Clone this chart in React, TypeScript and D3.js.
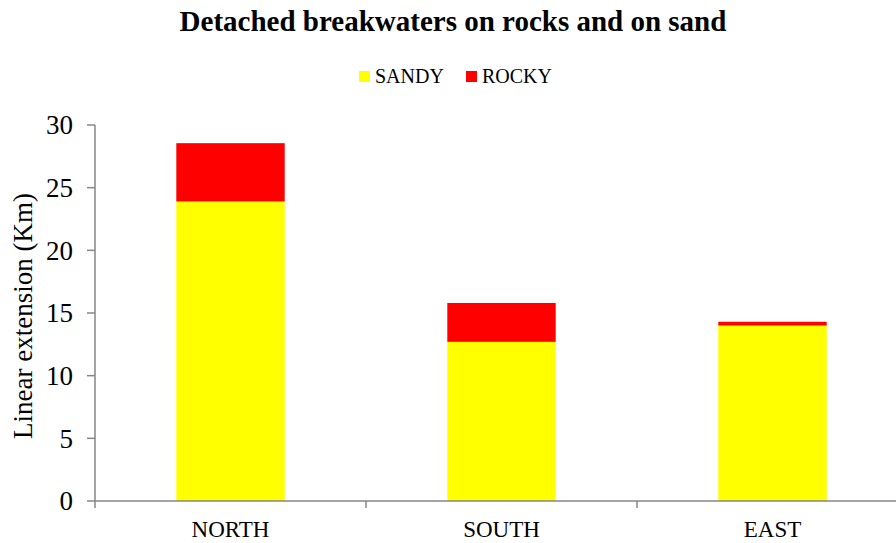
import { useEffect, useRef } from "react";
import * as d3 from "d3";

const regions = ["NORTH", "SOUTH", "EAST"];
const sandy = [23.9, 12.7, 14.0];
const rocky = [4.65, 3.1, 0.3];
const yTicks = [0, 5, 10, 15, 20, 25, 30];

const W = 896;
const H = 543;

export default function App() {
  const svgRef = useRef<SVGSVGElement>(null);

  useEffect(() => {
    if (!svgRef.current) return;
    const svg = d3.select(svgRef.current);
    svg.selectAll("*").remove();

    const font = "'Liberation Serif', 'Times New Roman', serif";
    const axisColor = "#868686";

    const x = d3
      .scaleBand<string>()
      .domain(regions)
      .range([95, 908])
      .paddingInner(0.6)
      .paddingOuter(0.3);

    const y = d3.scaleLinear().domain([0, 30]).range([501, 125]);

    // title
    svg
      .append("text")
      .attr("x", 453)
      .attr("y", 31)
      .attr("text-anchor", "middle")
      .attr("font-family", font)
      .attr("font-weight", "bold")
      .attr("font-size", 29)
      .text("Detached breakwaters on rocks and on sand");

    // legend
    const legend = [
      { label: "SANDY", color: "#ffff00", x: 359 },
      { label: "ROCKY", color: "#ff0000", x: 466 },
    ];
    const lg = svg.selectAll(".lg").data(legend).join("g").attr("class", "lg");
    lg.append("rect")
      .attr("x", (d) => d.x)
      .attr("y", 71)
      .attr("width", 11)
      .attr("height", 11)
      .attr("fill", (d) => d.color);
    lg.append("text")
      .attr("x", (d) => d.x + 16)
      .attr("y", 83)
      .attr("font-family", font)
      .attr("font-size", 20)
      .text((d) => d.label);

    // bars
    const data = regions.map((r, i) => ({ r, s: sandy[i], k: rocky[i] }));
    svg
      .selectAll(".sandy")
      .data(data)
      .join("rect")
      .attr("x", (d) => x(d.r)!)
      .attr("width", x.bandwidth())
      .attr("y", (d) => y(d.s))
      .attr("height", (d) => y(0) - y(d.s))
      .attr("fill", "#ffff00");
    svg
      .selectAll(".rocky")
      .data(data)
      .join("rect")
      .attr("x", (d) => x(d.r)!)
      .attr("width", x.bandwidth())
      .attr("y", (d) => y(d.s + d.k))
      .attr("height", (d) => y(d.s) - y(d.s + d.k))
      .attr("fill", "#ff0000");

    // y axis
    const yAxis = svg.append("g").attr("transform", "translate(95,0)");
    yAxis
      .append("line")
      .attr("y1", y(0))
      .attr("y2", y(30))
      .attr("stroke", axisColor)
      .attr("stroke-width", 1.5);
    yAxis
      .selectAll("line.tick")
      .data(yTicks)
      .join("line")
      .attr("class", "tick")
      .attr("x1", -8)
      .attr("x2", 0)
      .attr("y1", (d) => y(d))
      .attr("y2", (d) => y(d))
      .attr("stroke", axisColor)
      .attr("stroke-width", 1.5);
    yAxis
      .selectAll("text")
      .data(yTicks)
      .join("text")
      .attr("x", -22)
      .attr("y", (d) => y(d))
      .attr("dy", "0.35em")
      .attr("text-anchor", "end")
      .attr("font-family", font)
      .attr("font-size", 27)
      .text((d) => d);

    svg
      .append("text")
      .attr("transform", `translate(32,316) rotate(-90)`)
      .attr("text-anchor", "middle")
      .attr("font-family", font)
      .attr("font-size", 27)
      .text("Linear extension (Km)");

    // x axis
    const step = x.step();
    const bounds = [0, 1, 2, 3].map((i) => 95 + i * step);
    const xAxis = svg.append("g");
    xAxis
      .append("line")
      .attr("x1", 95)
      .attr("x2", W)
      .attr("y1", y(0))
      .attr("y2", y(0))
      .attr("stroke", axisColor)
      .attr("stroke-width", 1.5);
    xAxis
      .selectAll("line.tick")
      .data(bounds)
      .join("line")
      .attr("class", "tick")
      .attr("x1", (d) => d)
      .attr("x2", (d) => d)
      .attr("y1", y(0))
      .attr("y2", y(0) + 7)
      .attr("stroke", axisColor)
      .attr("stroke-width", 1.5);
    xAxis
      .selectAll("text")
      .data(regions)
      .join("text")
      .attr("x", (d) => x(d)! + x.bandwidth() / 2)
      .attr("y", 537)
      .attr("text-anchor", "middle")
      .attr("font-family", font)
      .attr("font-size", 23)
      .text((d) => d);
  }, []);

  return (
    <svg
      ref={svgRef}
      width={W}
      height={H}
      style={{ position: "absolute", left: 0, top: 0, background: "#fff" }}
    />
  );
}
